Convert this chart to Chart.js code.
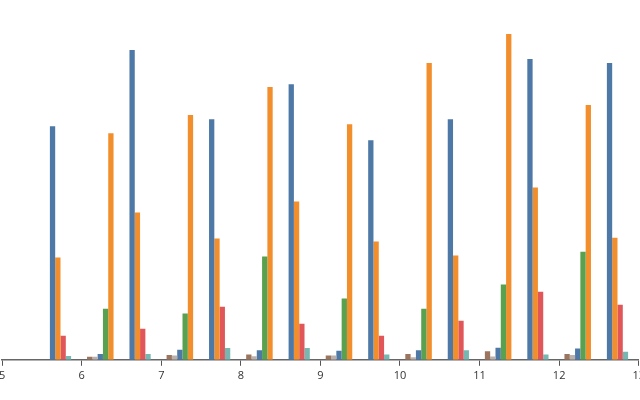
<!DOCTYPE html>
<html>
<head>
<meta charset="utf-8">
<script src="https://cdn.jsdelivr.net/npm/chart.js@4"></script>
<style>
  html, body { margin: 0; padding: 0; background: #fff; overflow: hidden; }
  #wrap { position: absolute; left: -4px; top: 0; width: 652px; height: 400px; }
</style>
</head>
<body>
<div id="wrap"><canvas id="myChart" width="652" height="400"></canvas></div>
<script>
// x categories
const labels = ['5', '6', '7', '8', '9', '10', '11', '12', '13']

// series values (nothing drawn at 5, right half of 13 falls off the chart)
const blueA   = [null, 71.7, 95.1, 73.8, 84.6, 67.4, 73.8, 92.3, 91.1]
const orangeA = [null, 31.4, 45.2, 37.2, 48.6, 36.3, 32.0, 52.9, 37.5]
const redA    = [null, 7.4, 9.5, 16.3, 11.1, 7.4, 12.0, 20.9, 16.9]
const tealA   = [null, 1.2, 1.8, 3.6, 3.6, 1.6, 2.9, 1.6, 2.5]
const emptyA  = [null, null, null, null, null, null, null, null, null]
const emptyB  = [null, null, null, null, null, null, null, null, null]
const emptyC  = [null, null, null, null, null, null, null, null, null]
const brownB  = [null, 0.9, 1.5, 1.6, 1.3, 1.8, 2.6, 1.8, null]
const greyB   = [null, 0.9, 1.3, 1.1, 1.3, 0.8, 1.0, 1.5, null]
const blueB   = [null, 1.8, 3.1, 2.9, 2.8, 2.9, 3.7, 3.5, null]
const greenB  = [null, 15.7, 14.2, 31.7, 18.8, 15.7, 23.1, 33.2, null]
const orangeB = [null, 69.5, 75.1, 83.7, 72.3, 91.1, 100, 78.2, null]

const series = [
    [blueA, '#4e79a7'],
    [orangeA, '#f28e2b'],
    [redA, '#e15759'],
    [tealA, '#76b7b2'],
    [emptyA, '#59a14f'],
    [emptyB, '#edc948'],
    [emptyC, '#b07aa1'],
    [brownB, '#9c755f'],
    [greyB, '#bab0ac'],
    [blueB, '#4e79a7'],
    [greenB, '#59a14f'],
    [orangeB, '#f28e2b']
]

const ctx = document.getElementById('myChart').getContext('2d')

const myChart = new Chart(ctx, {
    type: 'bar',
    data: {
        labels: labels,
        datasets: series.map(([data, color]) => ({
            data: data,
            backgroundColor: color,
            borderWidth: 0,
            categoryPercentage: 0.8,
            barPercentage: 1.0
        }))
    },
    options: {
        responsive: false,
        animation: false,
        layout: { padding: { top: 34, bottom: 15, left: 0, right: 0 } },
        plugins: {
            legend: { display: false },
            tooltip: { enabled: false }
        },
        scales: {
            x: {
                offset: false,
                grid: { offset: false, drawOnChartArea: false, drawTicks: true, tickLength: 6, color: '#555' },
                border: { display: true, color: '#666', width: 1.5 },
                ticks: {
                    color: '#333',
                    padding: 3,
                    autoSkip: false,
                    maxRotation: 0,
                    font: { family: 'Open Sans', size: 11 }
                }
            },
            y: {
                display: false,
                min: 0,
                max: 100
            }
        }
    }
})
</script>
</body>
</html>
